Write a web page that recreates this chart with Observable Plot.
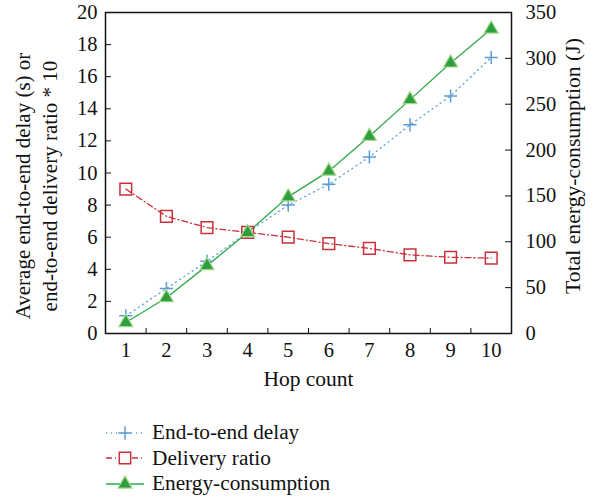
<!DOCTYPE html>
<html>
<head>
<meta charset="utf-8">
<script src="https://cdn.jsdelivr.net/npm/d3@7"></script>
<script src="https://cdn.jsdelivr.net/npm/@observablehq/plot@0.6"></script>
<style>
  html, body { margin: 0; padding: 0; background: #fff; }
  #chart { width: 597px; }
  .legend { margin-top: 20px; margin-left: 105px; font-family: "Liberation Serif", "Times New Roman", "DejaVu Serif", serif; font-size: 21.3px; color: #111; }
  .row { display: flex; align-items: center; height: 25.5px; }
  .row svg { flex: none; }
  .row span { margin-left: 7px; }
</style>
</head>
<body>
<div id="chart"></div>
<script>
// ---- data ----
const hops = [1, 2, 3, 4, 5, 6, 7, 8, 9, 10];
const delay = [1.1, 2.8, 4.5, 6.3, 8.0, 9.3, 11.0, 13.0, 14.8, 17.2];
const ratio = [9.0, 7.3, 6.6, 6.3, 6.0, 5.6, 5.3, 4.9, 4.75, 4.7];
const energy = [12, 39, 74, 110, 149, 177, 215, 255, 295, 332];
const leftTicks = [0, 2, 4, 6, 8, 10, 12, 14, 16, 18, 20];
const rightTicks = [0, 50, 100, 150, 200, 250, 300, 350];
const seriesNames = ["End-to-end delay", "Delivery ratio", "Energy-consumption"];

const k = 350 / 20; // right axis to left axis
const blue = "#5b9bd5", red = "#c8313a", green = "#2eaa48", triFill = "#2f9e3f", triStroke = "#a4d88a";
const dashDelay = "1,4", dashRatio = "6,3,1,3";

const rows = hops.map((h, i) => ({hop: h, delay: delay[i], ratio: ratio[i], energy: energy[i] / k}));

const plot = Plot.plot({
  width: 597,
  height: 400,
  marginLeft: 105,
  marginRight: 86,
  marginTop: 12,
  marginBottom: 67,
  style: {fontFamily: "'Liberation Serif', 'Times New Roman', 'DejaVu Serif', serif", fontSize: "20.5px", color: "#111", background: "#fff"},
  x: {domain: [0.5, 10.5], label: null},
  y: {domain: [0, 20], label: null},
  marks: [
    Plot.axisY(leftTicks, {anchor: "left", tickSize: -6, tickPadding: 14, label: null}),
    Plot.axisY(rightTicks.map(v => v / k), {anchor: "right", tickSize: -7, tickPadding: 21, tickFormat: v => Math.round(v * k), label: null}),
    Plot.axisX(hops, {tickSize: 0, tickPadding: 9, label: null}),
    Plot.axisX(hops.slice(0, -1).map(h => h + 0.5), {anchor: "bottom", tickSize: -5, tickFormat: () => "", label: null}),
    Plot.line(rows, {x: "hop", y: "delay", stroke: blue, strokeWidth: 1.3, strokeDasharray: dashDelay}),
    Plot.line(rows, {x: "hop", y: "ratio", stroke: red, strokeWidth: 1.3, strokeDasharray: dashRatio}),
    Plot.line(rows, {x: "hop", y: "energy", stroke: green, strokeWidth: 1.3}),
    Plot.dot(rows, {x: "hop", y: "delay", symbol: "plus", r: 4.3, stroke: blue, strokeWidth: 1.5}),
    Plot.dot(rows, {x: "hop", y: "ratio", symbol: "square", r: 6.6, stroke: red, fill: "white", fillOpacity: 0, strokeWidth: 1.5}),
    Plot.dot(rows, {x: "hop", y: "energy", symbol: "triangle", r: 5.2, fill: triFill, stroke: triStroke, strokeWidth: 1.2}),
    Plot.frame({stroke: "#111", strokeWidth: 1.5}),
    Plot.text(["Hop count"], {frameAnchor: "bottom", dy: 46, lineAnchor: "middle", textAnchor: "middle", fontSize: 21.5, fill: "#111"}),
    Plot.text(["Average end-to-end delay (s) or\nend-to-end delivery ratio * 10"], {frameAnchor: "left", dx: -71, dy: 13, rotate: -90, fontSize: 21, lineHeight: 1.29, lineAnchor: "middle", textAnchor: "middle", fill: "#111"}),
    Plot.text(["Total energy-consumption (J)"], {frameAnchor: "right", dx: 62, dy: -7, rotate: -90, fontSize: 21.7, lineAnchor: "middle", textAnchor: "middle", fill: "#111"})
  ]
});
document.getElementById("chart").appendChild(plot);

// ---- legend ----
const legend = d3.select("#chart").append("div").attr("class", "legend");
const specs = [
  {name: seriesNames[0], stroke: blue, dash: dashDelay, sym: "plus"},
  {name: seriesNames[1], stroke: red, dash: dashRatio, sym: "square"},
  {name: seriesNames[2], stroke: green, dash: null, sym: "triangle"}
];
specs.forEach(s => {
  const row = legend.append("div").attr("class", "row");
  const svg = row.append("svg").attr("width", 40).attr("height", 20);
  svg.append("line").attr("x1", 1).attr("x2", 39).attr("y1", 10).attr("y2", 10)
    .attr("stroke", s.stroke).attr("stroke-width", 1.3).attr("stroke-dasharray", s.dash);
  const g = svg.append("g").attr("transform", "translate(20,10)");
  if (s.sym === "plus") {
    g.append("path").attr("d", d3.symbol(d3.symbolPlus, 60)()).attr("stroke", blue).attr("stroke-width", 1.5).attr("fill", "none");
  } else if (s.sym === "square") {
    g.append("path").attr("d", d3.symbol(d3.symbolSquare, 130)()).attr("stroke", red).attr("stroke-width", 1.5).attr("fill", "white");
  } else {
    g.append("path").attr("d", d3.symbol(d3.symbolTriangle, 85)()).attr("fill", triFill).attr("stroke", triStroke).attr("stroke-width", 1.2);
  }
  row.append("span").text(s.name);
});
</script>
</body>
</html>
